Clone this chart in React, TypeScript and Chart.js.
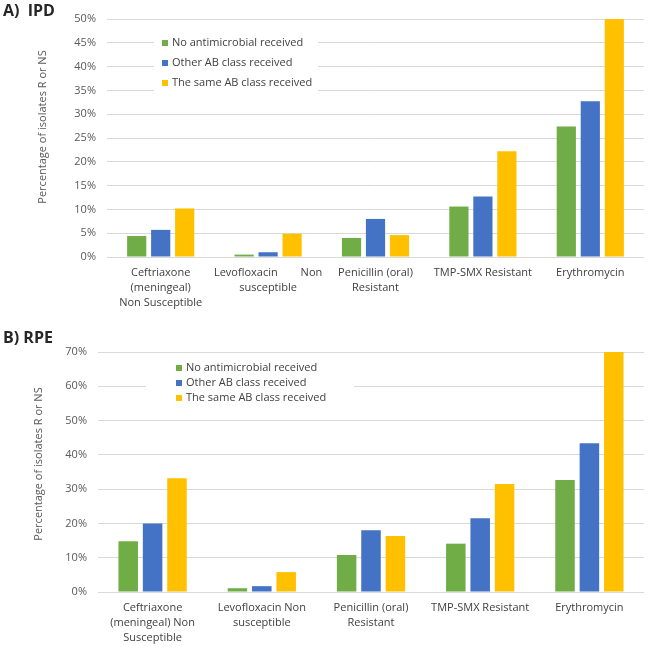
import React, { useEffect, useRef } from "react";
import { Chart, registerables } from "chart.js";

Chart.register(...registerables);

// Series names and colours
const seriesNames = [
  "No antimicrobial received",
  "Other AB class received",
  "The same AB class received",
];
const seriesColors = ["#70AD47", "#4472C4", "#FFC000"];

// Panel A – IPD
const ipdCategories: (string | string[])[] = [
  ["Ceftriaxone", "(meningeal)", "Non Susceptible"],
  ["Levofloxacin        Non", "susceptible"],
  ["Penicillin (oral)", "Resistant"],
  "TMP-SMX Resistant",
  "Erythromycin",
];
const ipdNone = [4.4, 0.5, 4.0, 10.6, 27.4];
const ipdOther = [5.7, 1.0, 8.0, 12.7, 32.7];
const ipdSame = [10.2, 4.9, 4.6, 22.2, 50.0];

// Panel B – RPE
const rpeCategories: (string | string[])[] = [
  ["Ceftriaxone", "(meningeal) Non", "Susceptible"],
  ["Levofloxacin Non", "susceptible"],
  ["Penicillin (oral)", "Resistant"],
  "TMP-SMX Resistant",
  "Erythromycin",
];
const rpeNone = [14.8, 1.1, 10.8, 14.1, 32.7];
const rpeOther = [20.0, 1.7, 18.0, 21.5, 43.4];
const rpeSame = [33.2, 5.8, 16.3, 31.5, 70.0];

const FONT = "'Open Sans', 'Noto Sans', sans-serif";
const AXIS_TITLE = "Percentage of isolates R or NS";

type PanelCfg = {
  title: string;
  titleY: number;
  categories: (string | string[])[];
  series: number[][];
  max: number;
  step: number;
  height: number;
  top: number; // plot top
  axisWidth: number; // y axis width (plot left)
  xAxisHeight: number;
  axisTitle: { x: number; y: number };
  legend: { box: [number, number, number, number]; x: number; y: number; gap: number };
};

// Draws panel heading, rotated axis title and the in-plot legend
const decorPlugin = {
  id: "decor",
  afterDatasetsDraw(chart: any, _args: any, opts: any) {
    const ctx = chart.ctx as CanvasRenderingContext2D;
    ctx.save();
    // legend with white backing
    const lg = opts.legend;
    const [bx, by, bw, bh] = lg.box;
    ctx.fillStyle = "#ffffff";
    ctx.fillRect(bx, by, bw, bh);
    ctx.font = `11px ${FONT}`;
    ctx.textBaseline = "middle";
    ctx.textAlign = "left";
    chart.data.datasets.forEach((ds: any, i: number) => {
      const cy = lg.y + i * lg.gap;
      ctx.fillStyle = ds.backgroundColor;
      ctx.fillRect(lg.x, cy - 3, 6, 6);
      ctx.fillStyle = "#404040";
      ctx.fillText(ds.label, lg.x + 10, cy);
    });
    // panel heading
    ctx.font = `bold 16px ${FONT}`;
    ctx.fillStyle = "#262626";
    ctx.fillText(opts.title, 3, opts.titleY);
    // y axis title
    ctx.translate(opts.axisTitle.x, opts.axisTitle.y);
    ctx.rotate(-Math.PI / 2);
    ctx.textAlign = "center";
    ctx.font = `11px ${FONT}`;
    ctx.fillStyle = "#595959";
    ctx.fillText(AXIS_TITLE, 0, 0);
    ctx.restore();
  },
};

function Panel({ cfg }: { cfg: PanelCfg }) {
  const ref = useRef<HTMLCanvasElement>(null);
  useEffect(() => {
    if (!ref.current) return;
    const chart = new Chart(ref.current, {
      type: "bar",
      data: {
        labels: cfg.categories as any,
        datasets: cfg.series.map((s, i) => ({
          label: seriesNames[i],
          data: s,
          backgroundColor: seriesColors[i],
          categoryPercentage: 0.67,
          barPercentage: 0.8,
        })),
      },
      options: {
        animation: false,
        responsive: false,
        layout: { padding: { top: cfg.top, right: 6, left: 0, bottom: 0 } },
        plugins: {
          legend: { display: false },
          tooltip: { enabled: false },
          decor: {
            title: cfg.title,
            titleY: cfg.titleY,
            axisTitle: cfg.axisTitle,
            legend: cfg.legend,
          },
        } as any,
        scales: {
          x: {
            grid: { display: false, drawTicks: false },
            border: { display: false },
            ticks: {
              color: "#404040",
              font: { family: FONT, size: 11, lineHeight: 1.36 },
              maxRotation: 0,
              autoSkip: false,
              padding: 8,
            },
            afterFit(scale: any) {
              scale.height = cfg.xAxisHeight;
            },
          },
          y: {
            min: 0,
            max: cfg.max,
            border: { display: false },
            grid: { color: "#d9d9d9", drawTicks: false, lineWidth: 1 },
            ticks: {
              stepSize: cfg.step,
              color: "#595959",
              font: { family: FONT, size: 11 },
              padding: 11,
              callback: (v: any) => `${v}%`,
            },
            afterFit(scale: any) {
              scale.width = cfg.axisWidth;
            },
          },
        },
      },
      plugins: [decorPlugin],
    });
    return () => chart.destroy();
  }, [cfg]);
  return (
    <canvas
      ref={ref}
      width={650}
      height={cfg.height}
      style={{ display: "block", width: 650, height: cfg.height }}
    />
  );
}

const panelA: PanelCfg = {
  title: "A)  IPD",
  titleY: 11,
  categories: ipdCategories,
  series: [ipdNone, ipdOther, ipdSame],
  max: 50,
  step: 5,
  height: 320,
  top: 19,
  axisWidth: 107,
  xAxisHeight: 63,
  axisTitle: { x: 43, y: 127 },
  legend: { box: [154, 28, 164, 70], x: 162, y: 43, gap: 20 },
};

const panelB: PanelCfg = {
  title: "B) RPE",
  titleY: 18,
  categories: rpeCategories,
  series: [rpeNone, rpeOther, rpeSame],
  max: 70,
  step: 10,
  height: 327,
  top: 32,
  axisWidth: 98,
  xAxisHeight: 55,
  axisTitle: { x: 39, y: 144 },
  legend: { box: [146, 38, 208, 50], x: 176, y: 48, gap: 15 },
};

export default function App() {
  return (
    <div style={{ position: "fixed", left: 0, top: 0, width: 650, height: 647, background: "#fff" }}>
      <Panel cfg={panelA} />
      <Panel cfg={panelB} />
    </div>
  );
}
